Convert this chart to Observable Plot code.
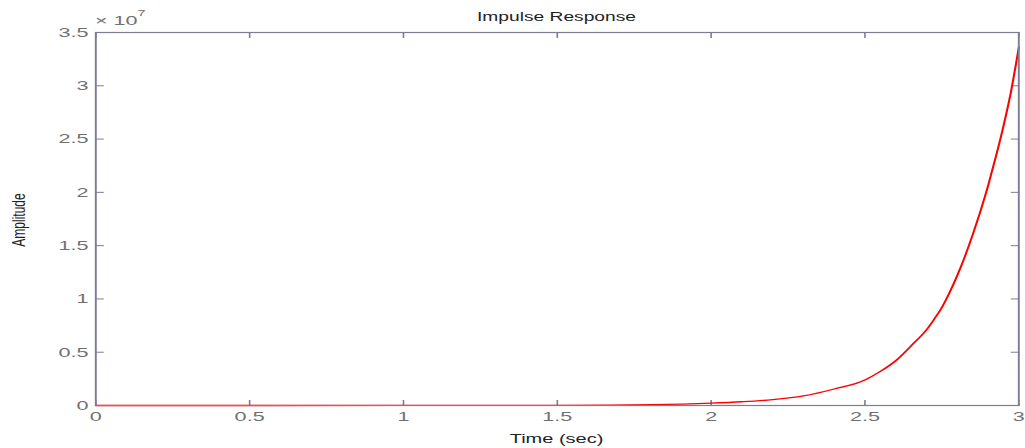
<!DOCTYPE html>
<html><head><meta charset="utf-8">
<script src="https://cdn.jsdelivr.net/npm/d3@7"></script>
<script src="https://cdn.jsdelivr.net/npm/@observablehq/plot@0.6"></script>
<style>body{margin:0;background:#fff} svg{display:block}</style>
</head><body><div id="chart"></div>
<script>
// Impulse response, amplitude in units of 10^7
const time      = [0, 0.5, 1, 1.5, 1.8, 2, 2.1, 2.2, 2.3, 2.4, 2.5, 2.55, 2.6, 2.65, 2.7, 2.725, 2.75, 2.775, 2.8, 2.825, 2.85, 2.875, 2.9, 2.925, 2.95, 2.975, 3];
const amplitude = [0, 0, 0.0003, 0.002, 0.008, 0.022, 0.035, 0.055, 0.09, 0.155, 0.24, 0.32, 0.42, 0.56, 0.71, 0.81, 0.92, 1.06, 1.22, 1.4, 1.6, 1.82, 2.06, 2.33, 2.62, 2.95, 3.36];
const xTicks = [0, 0.5, 1, 1.5, 2, 2.5, 3];
const yTicks = [0, 0.5, 1, 1.5, 2, 2.5, 3, 3.5];
const titleText = "Impulse Response";
const xLabel = "Time (sec)";
const yLabel = "Amplitude";

const data = time.map((t, i) => ({t, a: amplitude[i]}));
const S = 1.6;               // horizontal stretch of the reference
const W = 1025 / S, H = 448;
const axisColor = "#7c7c98", tickText = "#707070";
const fmt = d => String(d);

const svg = Plot.plot({
  width: W, height: H,
  marginLeft: 95 / S, marginRight: 7 / S, marginTop: 32, marginBottom: 43,
  x: {domain: [0, 3]},
  y: {domain: [0, 3.5]},
  style: {fontFamily: "Liberation Sans, Arial, sans-serif", fontSize: "13.5px", background: "#fff", overflow: "visible"},
  marks: [
    Plot.axisX(xTicks, {anchor: "bottom", tickSize: -5, tickPadding: 11, tickFormat: fmt, label: null, stroke: axisColor, fill: tickText}),
    Plot.axisX(xTicks, {anchor: "top", tickSize: -5, tickFormat: () => "", label: null, stroke: axisColor}),
    Plot.axisY(yTicks, {anchor: "left", tickSize: -5.5, tickPadding: 10, tickFormat: fmt, label: null, stroke: axisColor, fill: tickText}),
    Plot.axisY(yTicks, {anchor: "right", tickSize: -5.5, tickFormat: () => "", label: null, stroke: axisColor}),
    Plot.line(data, {x: "t", y: "a", stroke: "#ff0000", strokeWidth: 1.3, curve: "monotone-x"}),
    Plot.frame({stroke: axisColor, strokeWidth: 1.2})
  ]
});

svg.setAttribute("preserveAspectRatio", "none");
svg.style.width = "1025px";
svg.style.height = H + "px";
svg.style.maxWidth = "none";

const s = d3.select(svg);
const cx = (95 / S + (W - 7 / S)) / 2;
s.append("text").attr("x", cx).attr("y", 21).attr("text-anchor", "middle")
  .attr("fill", "#222").attr("font-size", 12).text(titleText);
s.append("text").attr("x", cx).attr("y", 443).attr("text-anchor", "middle")
  .attr("fill", "#222").attr("font-size", 12.5).text(xLabel);
s.append("text").attr("transform", `translate(${18 / S},220) rotate(-90)`).attr("text-anchor", "middle")
  .attr("dy", "0.35em").attr("fill", "#222").attr("font-size", 12)
  .attr("font-family", "Liberation Sans Narrow, Liberation Sans, Arial, sans-serif").text(yLabel);
const ex = s.append("text").attr("x", 95 / S).attr("y", 25).attr("text-anchor", "start")
  .attr("fill", tickText).attr("font-size", 13.5);
ex.append("tspan").text("× 10");
ex.append("tspan").attr("dy", -9).attr("font-size", 9).text("7");

document.getElementById("chart").appendChild(svg);
</script>
</body></html>
